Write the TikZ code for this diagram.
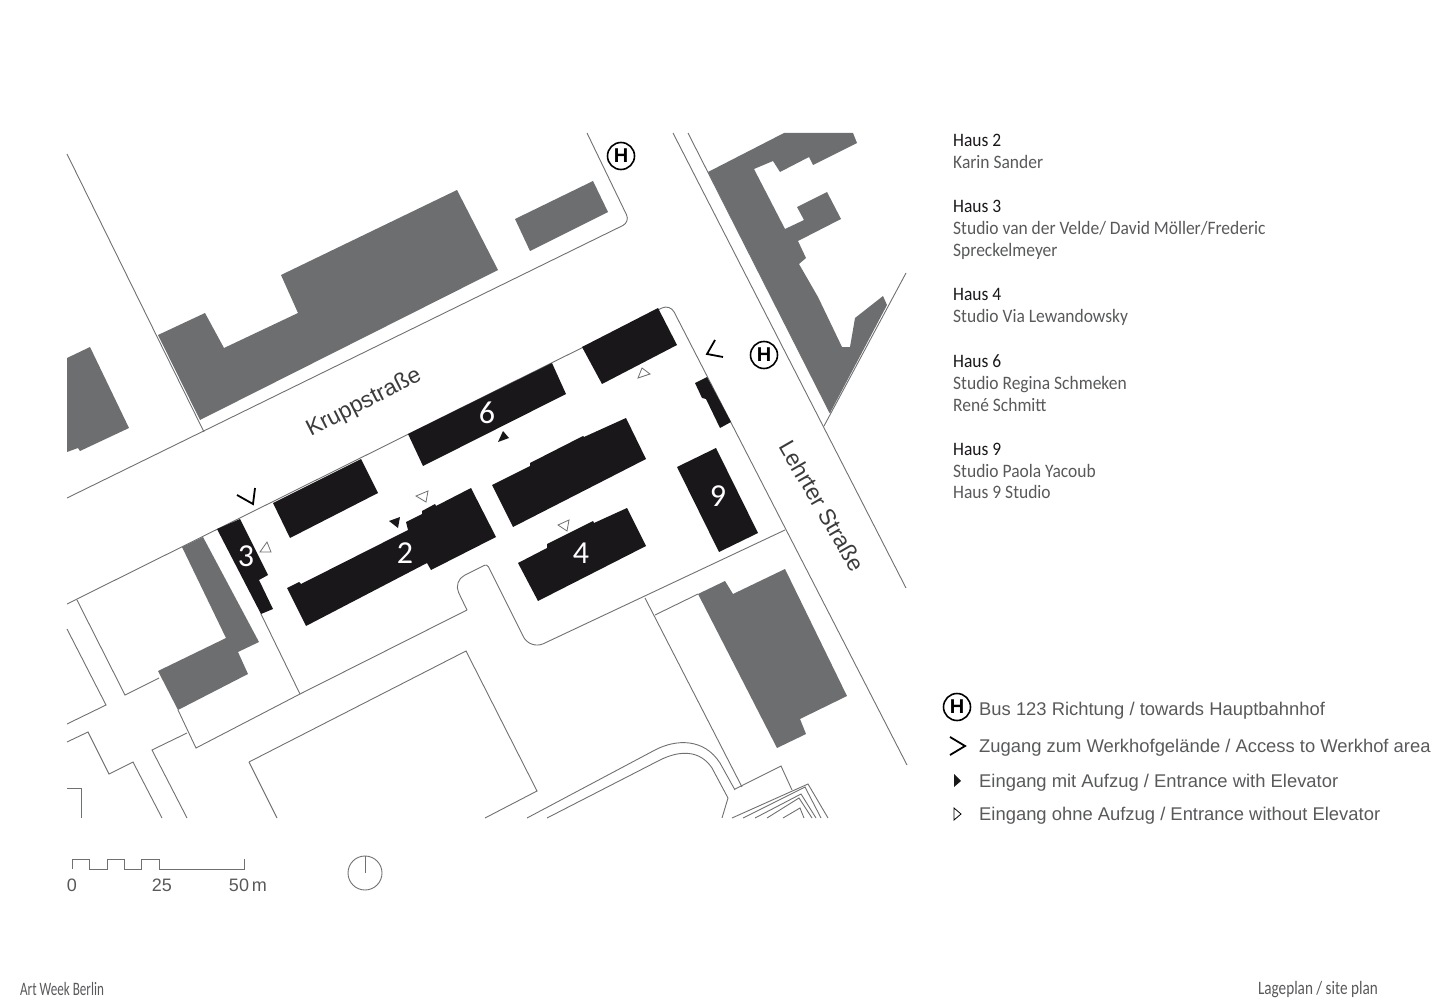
\documentclass[tikz,border=0pt]{standalone}
\usepackage{fontspec}
\setmainfont{Carlito}
\newfontfamily\legendfont{Liberation Sans}
\definecolor{planline}{HTML}{6F7072}
\definecolor{oldgrey}{HTML}{6D6E70}
\definecolor{newblack}{HTML}{1A171B}
\definecolor{textgrey}{HTML}{58595B}
\tikzset{
    plan/.style={draw=planline,line width=0.9pt,line join=miter},
    oldhouse/.style={fill=oldgrey},
    newhouse/.style={fill=newblack},
    housenumber/.style={text=white,font=\fontsize{32}{32}\selectfont},
    streetname/.style={text=newblack!85,font=\legendfont\fontsize{22.8}{22.8}\selectfont},
    housename/.style={anchor=west,inner sep=0pt,xscale=.92,text height=13pt,text depth=1pt,text=newblack,font=\fontsize{19}{19}\selectfont},
    artist/.style={housename,text=textgrey},
    footer/.style={inner sep=0pt,text=textgrey,font=\fontsize{19}{19}\selectfont},
    legend/.style={anchor=west,inner sep=0pt,text height=14pt,text depth=2pt,text=textgrey,font=\legendfont\fontsize{18.4}{18.4}\selectfont},
    scaletext/.style={text=textgrey,inner sep=0pt,font=\legendfont\fontsize{18}{18}\selectfont},
    busstop/.style={circle,draw=black,line width=1.6pt,minimum size=27pt,inner sep=0pt,font=\legendfont\bfseries\fontsize{20}{20}\selectfont},
    access/.style={draw=black,line width=1.8pt},
    lift/.style={fill=newblack},
    nolift/.style={draw=planline,fill=white,line width=0.8pt}
}
\begin{document}
\begin{tikzpicture}[x=1pt,y=-1pt]
\useasboundingbox (0,0) rectangle (1440,1000);

% Strassen und Grundstuecke
\draw[plan] (67,154) -- (204,432);
\draw[plan,rounded corners=8pt] (67,498) -- (630,222) -- (587,133);
\draw[plan] (673,133) -- (906,588);
\draw[plan] (688,133) -- (830,413);
\draw[plan] (824,426) -- (906,273);
\draw[plan,rounded corners=9pt] (67,604) -- (670,304) -- (907,765);
\draw[plan] (77,600) -- (125,695) -- (159,678);
\draw[plan] (67,629) -- (106,705) -- (67,724);
\draw[plan] (67,742) -- (88,732) -- (109,774) -- (133,762) -- (162,818);
\draw[plan] (187,818) -- (152,750) -- (187,733);
\draw[plan] (178,710) -- (196,748) -- (300,694) -- (467,610);
\draw[plan] (261,614) -- (300,694);
\draw[plan] (467,610) [rounded corners=13pt] -- (453,581) [rounded corners=3pt] -- (487,564) [rounded corners=15pt] -- (530,650) [sharp corners] -- (785,530);
\draw[plan] (249,762) -- (466,651) -- (537,791) -- (485,818);
\draw[plan] (249,762) -- (277,818);
\draw[plan] (67,788) -- (81,788) -- (81,818);
\draw[plan] (645,598) -- (742,787);
\draw[plan] (655,615) -- (698,594);
\draw[plan] (735,789) -- (781,766) -- (792,790);

% Kurven unten rechts
\draw[plan] (527,818) -- (655,750) .. controls (676,739) and (704,738) .. (720,763) -- (735,790);
\draw[plan] (547,818) -- (660,760) .. controls (680,750) and (700,750) .. (712,768) -- (728,798) -- (722,818);
\draw[plan] (732,818) -- (808,784) -- (828,818);
\draw[plan] (743,818) -- (805,787) -- (821,818);
\draw[plan] (755,818) -- (801,794) -- (816,818);
\draw[plan] (767,818) -- (799,798) -- (812,818);
\draw[plan] (783,818) -- (800,808) -- (804,818);

% Bestand
\fill[oldhouse] (158,335) -- (205,313) -- (224,348) -- (298,313) -- (281,275) -- (457,190) -- (498,270) -- (200,420) -- cycle;
\fill[oldhouse] (515,219) -- (593,181) -- (608,212) -- (530,251) -- cycle;
\fill[oldhouse] (67,358) -- (90,347) -- (129,428) -- (80,451) -- (78,448) -- (67,452) -- cycle;
\fill[oldhouse] (708,172) -- (784,133) -- (853,133) -- (857,143) -- (813,165) -- (809,157) -- (780,172) -- (773,161) -- (754,169) -- (785,229) -- (804,220) -- (797,207) -- (827,192) -- (841,219) -- (798,241) -- (806,258) -- (799,264) -- (818,297) -- (842,347) -- (850,347) -- (855,318) -- (883,296) -- (887,305) -- (830,413) -- cycle;
\fill[oldhouse] (182,547) -- (203,537) -- (259,642) -- (238,652) -- (248,674) -- (178,710) -- (158,671) -- (226,638) -- cycle;
\fill[oldhouse] (698,594) -- (725,581) -- (733,594) -- (785,569) -- (847,696) -- (800,719) -- (806,734) -- (777,748) -- cycle;

% Haeuser der Ausstellung
\fill[newhouse] (217,529) -- (240,519) -- (268,575) -- (259,580) -- (273,609) -- (261,614) -- cycle;
\fill[newhouse] (273,503) -- (361,459) -- (378,493) -- (290,538) -- cycle;
\fill[newhouse] (408,434) -- (552,363) -- (566,394) -- (423,466) -- cycle;
\fill[newhouse] (582,347) -- (658,308) -- (677,345) -- (602,384) -- cycle;
\fill[newhouse] (492,485) -- (530,466) -- (530,463) -- (583,436) -- (584,437) -- (626,418) -- (646,459) -- (513,527) -- cycle;
\fill[newhouse] (677,467) -- (716,448) -- (758,533) -- (719,552) -- cycle;
\fill[newhouse] (518,563) -- (547,548) -- (547,544) -- (593,521) -- (594,523) -- (627,508) -- (646,546) -- (538,601) -- cycle;
\fill[newhouse] (287,588) -- (299,582) -- (301,584) -- (408,530) -- (406,522) -- (422,514) -- (422,511) -- (435,504) -- (436,506) -- (471,488) -- (496,537) -- (431,570) -- (427,563) -- (306,626) -- cycle;
\fill[newhouse] (695,383) -- (707,377) -- (731,422) -- (720,428) -- (706,399) -- (702,398) -- cycle;

% Hausnummern
\node[housenumber] (n3) at (246,556) {3};
\node[housenumber] (n6) at (487,413) {6};
\node[housenumber] (n2) at (405,553) {2};
\node[housenumber] (n4) at (581,553) {4};
\node[housenumber] (n9) at (718,496) {9};

% Eingaenge
\fill[lift] (498,442) -- (503,431) -- (509,438) -- cycle;
\fill[lift] (389,521) -- (400,517) -- (398,528) -- cycle;
\draw[nolift] (260,552) -- (267,542) -- (271,552) -- cycle;
\draw[nolift] (638,378) -- (642,368) -- (650,374) -- cycle;
\draw[nolift] (416,496) -- (428,491) -- (426,502) -- cycle;
\draw[nolift] (558,525) -- (569,520) -- (567,531) -- cycle;

% Zugaenge und Haltestellen
\draw[access] (237,495) -- (253,504) -- (255,488);
\draw[access] (715,340) -- (707,354) -- (723,357);
\node[busstop] (stop1) at (621,156) {H};
\node[busstop] (stop2) at (764,355) {H};

% Strassennamen
\node[streetname,rotate=27] (krupp) at (364,403) {Kruppstraße};
\node[streetname,rotate=-60] (lehrter) at (822,506) {Lehrter Straße};

% Liste der Haeuser
\node[housename] (h2) at (953,141) {Haus 2};
\node[artist] (a2) at (953,163) {Karin Sander};
\node[housename] (h3) at (953,207) {Haus 3};
\node[artist] (a3) at (953,229) {Studio van der Velde/ David Möller/Frederic};
\node[artist] (a3b) at (953,251) {Spreckelmeyer};
\node[housename] (h4) at (953,295) {Haus 4};
\node[artist] (a4) at (953,317) {Studio Via Lewandowsky};
\node[housename] (h6) at (953,361) {Haus 6};
\node[artist] (a6) at (953,383) {Studio Regina Schmeken};
\node[artist] (a6b) at (953,405) {René Schmitt};
\node[housename] (h9) at (953,449) {Haus 9};
\node[artist] (a9) at (953,471) {Studio Paola Yacoub};
\node[artist] (a9b) at (953,492) {Haus 9 Studio};

% Legende
\node[busstop] (stop3) at (957,707) {H};
\node[legend] (l1) at (979,709) {Bus 123 Richtung / towards Hauptbahnhof};
\draw[access] (950,737) -- (965,746) -- (950,755);
\node[legend] (l2) at (979,746) {Zugang zum Werkhofgelände / Access to Werkhof area};
\fill[lift] (954,774) -- (961,781) -- (954,787) -- cycle;
\node[legend] (l3) at (979,781) {Eingang mit Aufzug / Entrance with Elevator};
\draw[nolift,draw=black] (954,808) -- (961,814) -- (954,820) -- cycle;
\node[legend] (l4) at (979,814) {Eingang ohne Aufzug / Entrance without Elevator};

% Massstab und Nordpfeil
\draw[plan] (72,869) -- (72,859) -- (89,859) -- (89,869) -- (107,869) -- (107,859) -- (124,859) -- (124,869) -- (141,869) -- (141,859) -- (159,859) -- (159,869) -- (244,869) -- (244,859);
\node[scaletext] (s0) at (72,885) {0};
\node[scaletext] (s25) at (162,885) {25};
\node[scaletext] (s50) at (248,885) {50\,m};
\node[circle,plan,minimum size=34pt,inner sep=0pt] (north) at (365,873) {};
\draw[plan] (north.north) -- (north.center);

% Fusszeile
\node[footer,anchor=west,xscale=.69] (foot1) at (20,989) {Art Week Berlin};
\node[footer,anchor=east,xscale=.8] (foot2) at (1378,990) {Lageplan / site plan};
\end{tikzpicture}
\end{document}
